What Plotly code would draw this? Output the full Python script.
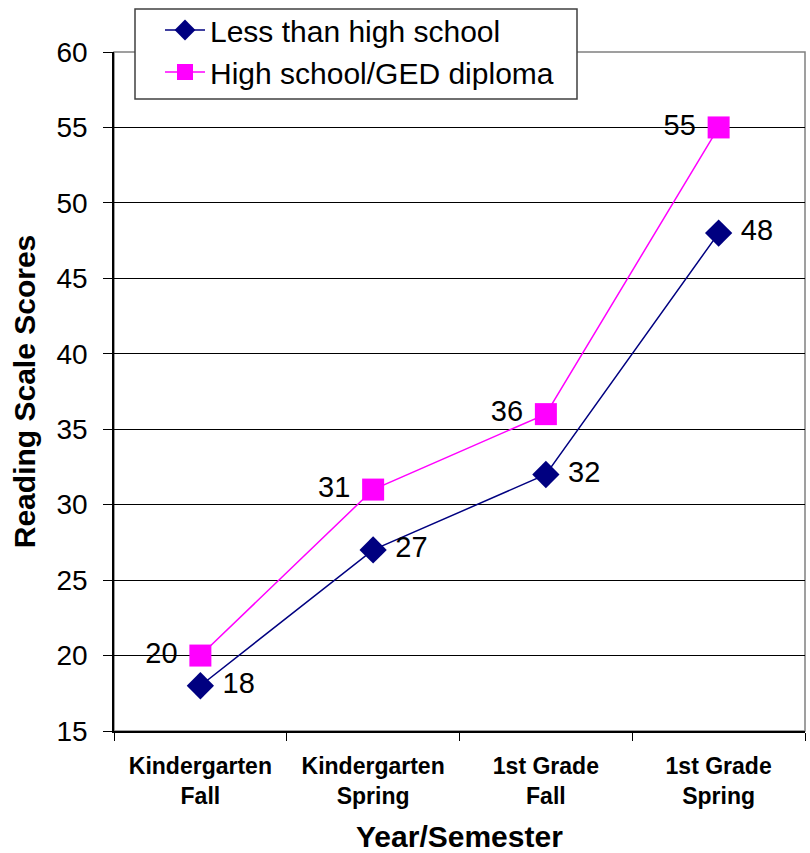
import plotly.graph_objects as go

categories = ["Kindergarten<br>Fall", "Kindergarten<br>Spring", "1st Grade<br>Fall", "1st Grade<br>Spring"]
less_than_hs = [18, 27, 32, 48]
hs_ged = [20, 31, 36, 55]
y_ticks = [15, 20, 25, 30, 35, 40, 45, 50, 55, 60]
x_title = "Year/Semester"
y_title = "Reading Scale Scores"

FONT = "Liberation Sans, Arial, sans-serif"

# plot area in pixels (for paper-coordinate placement)
L, R, T, B = 114, 805, 51, 731
PW, PH = R - L, B - T

fig = go.Figure()
fig.add_trace(go.Scatter(
    x=categories, y=less_than_hs, name="Less than high school",
    mode="lines+markers+text", text=[" " + str(v) for v in less_than_hs],
    textposition="middle right", textfont=dict(size=29, color="black", family=FONT),
    line=dict(color="#000080", width=1.5),
    marker=dict(symbol="diamond", size=21, color="#000080"),
))
fig.add_trace(go.Scatter(
    x=categories, y=hs_ged, name="High school/GED diploma",
    mode="lines+markers+text", text=[str(v) + " " for v in hs_ged],
    textposition="middle left", textfont=dict(size=29, color="black", family=FONT),
    line=dict(color="#FF00FF", width=1.5),
    marker=dict(symbol="square", size=22, color="#FF00FF"),
))

# plot area border
fig.add_shape(type="rect", xref="paper", yref="paper", x0=0, y0=0, x1=1, y1=1,
              line=dict(color="#808080", width=1.5), layer="below")
# legend box
fig.add_shape(type="rect", xref="paper", yref="paper",
              x0=(135 - L) / PW, x1=(577 - L) / PW,
              y0=(B - 98) / PH, y1=(B - 8) / PH,
              line=dict(color="#404040", width=1.5), fillcolor="white", layer="above")

# x axis title
fig.add_annotation(text="<b>" + x_title + "</b>", xref="paper", yref="paper",
                   x=0.5, y=(B - 837) / PH, xanchor="center", yanchor="middle",
                   showarrow=False, font=dict(size=30, family=FONT, color="black"))

fig.update_layout(
    width=810, height=853,
    margin=dict(l=L, r=810 - R, t=T, b=853 - B),
    paper_bgcolor="white", plot_bgcolor="white",
    font=dict(family=FONT, size=28, color="black"),
    showlegend=True,
    legend=dict(
        x=(160 - L) / PW, y=1 + (T - 4) / PH, xanchor="left", yanchor="top",
        bgcolor="rgba(0,0,0,0)", borderwidth=0, itemwidth=40,
        font=dict(size=30, family=FONT, color="black"),
        tracegroupgap=0,
    ),
    xaxis=dict(
        type="category", tickson="boundaries", ticks="outside", ticklen=8,
        tickcolor="black", showline=True, linecolor="black", linewidth=1.5,
        showgrid=False, tickfont=dict(size=23, family=FONT),
        ticklabelstandoff=14, automargin=False,
        range=[-0.5, 3.5],
    ),
    yaxis=dict(
        range=[15, 60], tickvals=y_ticks, ticks="outside", ticklen=9,
        tickcolor="black", showline=True, linecolor="black", linewidth=1.5,
        showgrid=True, gridcolor="black", gridwidth=1, zeroline=False,
        tickfont=dict(size=28), ticklabelstandoff=10, automargin=False,
        title=dict(text="<b>" + y_title + "</b>", font=dict(size=30), standoff=12),
    ),
)
fig.update_xaxes(tickprefix="<b>", ticksuffix="</b>")

fig.write_html("out.html")
